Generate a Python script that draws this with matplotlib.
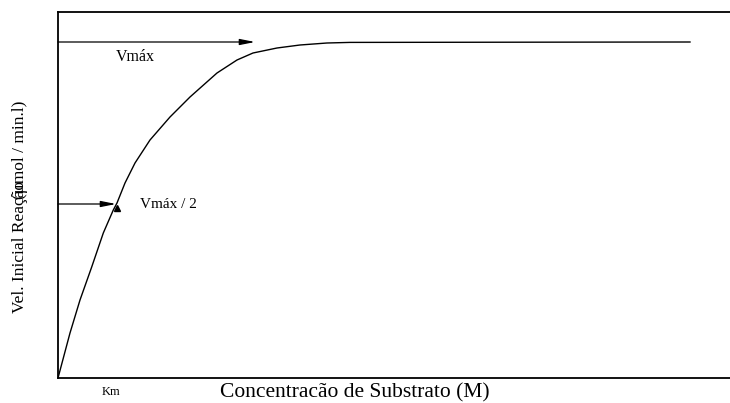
import matplotlib.pyplot as plt

# Curve (substrate conc. vs initial velocity, arbitrary units)
conc = [0, 12, 22, 33.7, 45.3, 55.3, 59, 67, 77, 92, 112, 132, 159, 179, 195,
        219, 242, 269, 292, 632]
vel = [0, 45, 78, 111, 145, 168, 175, 195, 215, 238, 261, 281, 305, 318, 325,
       330, 333, 335, 335.6, 336]
vmax = 336
vmax_half_y = 174
km = 59
vmax_arrow_end = 197

plt.rcParams["font.family"] = ["Liberation Serif", "DejaVu Serif"]

fig = plt.figure(figsize=(7.3, 4.03), dpi=100)
ax = fig.add_axes([58 / 730, 25 / 403, 672 / 730, 366 / 403])
ax.set_xlim(0, 672)
ax.set_ylim(0, 366)

ax.plot(conc, vel, color="black", lw=1.0, solid_joinstyle="round")

arrow = dict(arrowstyle="-|>,head_length=0.9,head_width=0.18", color="black",
             lw=0.9, shrinkA=0, shrinkB=0)
ax.annotate("", xy=(vmax_arrow_end, vmax), xytext=(0, vmax), arrowprops=arrow)
ax.annotate("", xy=(km - 1, vmax_half_y), xytext=(0, vmax_half_y), arrowprops=arrow)
ax.plot([km], [vmax_half_y - 4], marker="^", color="black", markersize=5)

ax.text(58, 321, "Vmáx", fontsize=11.5, va="center")
ax.text(82, 173, "Vmáx / 2", fontsize=11, va="center")
ax.text(44, -14, "Km", fontsize=9, va="center", clip_on=False)

ax.spines["right"].set_visible(False)
for side in ("left", "top", "bottom"):
    ax.spines[side].set_linewidth(1.3)
ax.set_xticks([])
ax.set_yticks([])

fig.text(355 / 730, 1 - 393 / 403, "Concentracão de Substrato (M)", fontsize=15.5,
         ha="center", va="center")
fig.text(20 / 730, 1 - 247 / 403, "Vel. Inicial Reação", fontsize=12.5,
         rotation=90, ha="center", va="center")
fig.text(20 / 730, 1 - 150 / 403, "(µmol / min.l)", fontsize=12.5,
         rotation=90, ha="center", va="center")

fig.savefig("out.png", dpi=100)
